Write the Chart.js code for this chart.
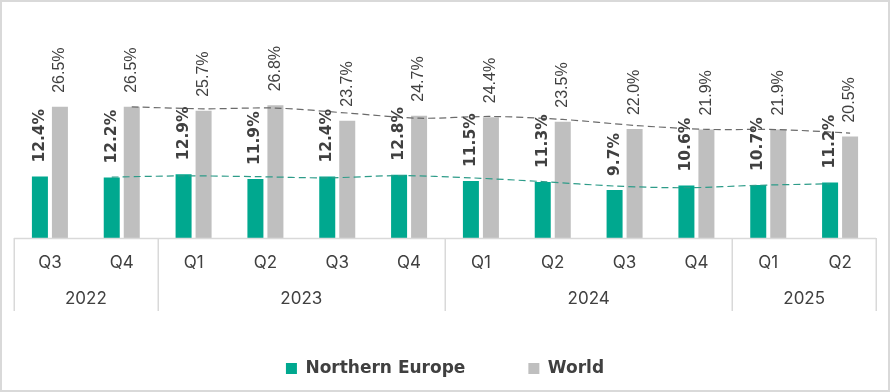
<!DOCTYPE html>
<html>
<head>
<meta charset="utf-8">
<script src="https://cdn.jsdelivr.net/npm/chart.js@4.4.1/dist/chart.umd.min.js"></script>
<style>
  html, body { margin: 0; padding: 0; background: #ffffff; }
  #frame { width: 890px; height: 392px; box-sizing: border-box; border: 2px solid #d9d9d9; background: #fff; }
  canvas { display: block; }
</style>
</head>
<body>
<div id="frame"><canvas id="c" width="886" height="385"></canvas></div>
<script>
// ---- data ----
const quarters = ['Q3','Q4','Q1','Q2','Q3','Q4','Q1','Q2','Q3','Q4','Q1','Q2'];
const quarterYears = ['2022','2022','2023','2023','2023','2023','2024','2024','2024','2024','2025','2025'];
const northernEurope = [12.4, 12.2, 12.9, 11.9, 12.4, 12.8, 11.5, 11.3, 9.7, 10.6, 10.7, 11.2];
const world = [26.5, 26.5, 25.7, 26.8, 23.7, 24.7, 24.4, 23.5, 22.0, 21.9, 21.9, 20.5];
// 2-period moving-average trend lines (as shown in the picture)
const northernEuropeTrend = [null, 12.3, 12.55, 12.4, 12.15, 12.6, 12.15, 11.4, 10.5, 10.15, 10.65, 10.95];
const worldTrend = [null, 26.5, 26.1, 26.25, 25.25, 24.2, 24.55, 23.95, 22.75, 21.95, 21.9, 21.2];
const seriesNames = ['Northern Europe', 'World'];

// ---- style ----
const TEAL = '#00A88F';
const GREY = '#BFBFBF';
const TEXT = '#404040';
const RULE = '#d9d9d9';
const CAT_PCT = 0.557;
const BAR_PCT = 0.8;

// trend line per bar dataset: drawn through that dataset's bar centres, on the y scale
const trendSpecs = [
  { dataset: 0, values: northernEuropeTrend, color: '#2e9c89' },
  { dataset: 1, values: worldTrend, color: '#6b6b6b' }
];

const overlay = {
  id: 'overlay',
  afterDatasetsDraw(chart) {
    const ctx = chart.ctx;
    const ys = chart.scales.y;
    // trend lines
    trendSpecs.forEach(spec => {
      const meta = chart.getDatasetMeta(spec.dataset);
      const pts = [];
      spec.values.forEach((v, i) => {
        if (v !== null) pts.push({ x: meta.data[i].x, y: ys.getPixelForValue(v) });
      });
      const s = 0.15;
      ctx.save();
      ctx.strokeStyle = spec.color;
      ctx.lineWidth = 1.2;
      ctx.setLineDash([7, 4]);
      ctx.beginPath();
      ctx.moveTo(pts[0].x, pts[0].y);
      for (let i = 0; i < pts.length - 1; i++) {
        const p0 = pts[Math.max(i - 1, 0)], p1 = pts[i], p2 = pts[i + 1], p3 = pts[Math.min(i + 2, pts.length - 1)];
        ctx.bezierCurveTo(p1.x + (p2.x - p0.x) * s, p1.y + (p2.y - p0.y) * s,
                          p2.x - (p3.x - p1.x) * s, p2.y - (p3.y - p1.y) * s,
                          p2.x, p2.y);
      }
      ctx.stroke();
      ctx.restore();
    });
    // value labels
    [0, 1].forEach(di => {
      const meta = chart.getDatasetMeta(di);
      const values = chart.data.datasets[di].data;
      meta.data.forEach((bar, i) => {
        ctx.save();
        ctx.translate(bar.x, bar.y - 14);
        ctx.rotate(-Math.PI / 2);
        ctx.font = di === 0 ? 'bold 15.5px "DejaVu Sans"' : '16px "Liberation Sans"';
        ctx.fillStyle = TEXT;
        ctx.textAlign = 'left';
        ctx.textBaseline = 'middle';
        ctx.fillText(values[i].toFixed(1) + '%', 0, 0);
        ctx.restore();
      });
    });
  }
};

const groupAxis = {
  id: 'groupAxis',
  afterDraw(chart) {
    const ctx = chart.ctx;
    const xs = chart.scales.x;
    const area = chart.chartArea;
    const base = area.bottom;
    const step = (xs.getPixelForValue(1) - xs.getPixelForValue(0));
    ctx.save();
    ctx.strokeStyle = RULE;
    ctx.lineWidth = 1.5;
    ctx.beginPath();
    ctx.moveTo(area.left, base + 0.5);
    ctx.lineTo(area.right, base + 0.5);
    ctx.stroke();
    const groups = [];
    quarterYears.forEach((y, i) => {
      if (!groups.length || groups[groups.length - 1].label !== y) groups.push({ label: y, start: i, end: i });
      else groups[groups.length - 1].end = i;
    });
    const bottom = base + 73;
    const edges = [area.left];
    groups.forEach(g => edges.push(xs.getPixelForValue(g.end) + step / 2));
    edges.forEach(x => {
      ctx.beginPath();
      ctx.moveTo(Math.round(x) + 0.25, base);
      ctx.lineTo(Math.round(x) + 0.25, bottom);
      ctx.stroke();
    });
    ctx.fillStyle = TEXT;
    ctx.font = '17px Inter';
    ctx.textAlign = 'center';
    ctx.textBaseline = 'middle';
    groups.forEach(g => {
      const cx = (xs.getPixelForValue(g.start) + xs.getPixelForValue(g.end)) / 2;
      ctx.fillText(g.label, cx, base + 61);
    });
    ctx.restore();
  }
};

new Chart(document.getElementById('c'), {
  type: 'bar',
  data: {
    labels: quarters,
    datasets: [
      { label: seriesNames[0], data: northernEurope, backgroundColor: TEAL, borderWidth: 0,
        categoryPercentage: CAT_PCT, barPercentage: BAR_PCT },
      { label: seriesNames[1], data: world, backgroundColor: GREY, borderWidth: 0,
        categoryPercentage: CAT_PCT, barPercentage: BAR_PCT }
    ]
  },
  options: {
    responsive: false,
    animation: false,
    devicePixelRatio: 1,
    layout: { padding: { left: 12, right: 12, top: 38, bottom: 0 } },
    scales: {
      y: { display: false, min: 0, max: 40 },
      x: {
        grid: { display: false, drawTicks: false },
        border: { display: false },
        ticks: { color: TEXT, font: { family: 'Inter', size: 17 }, padding: 15, maxRotation: 0, autoSkip: false },
        afterFit(scale) { scale.height = 59; }
      }
    },
    plugins: {
      tooltip: { enabled: false },
      legend: {
        position: 'bottom',
        labels: {
          boxWidth: 11, boxHeight: 11, padding: 63, color: TEXT,
          font: { family: '"DejaVu Sans"', size: 17, weight: 'bold' }
        }
      }
    }
  },
  plugins: [overlay, groupAxis]
});
</script>
</body>
</html>
